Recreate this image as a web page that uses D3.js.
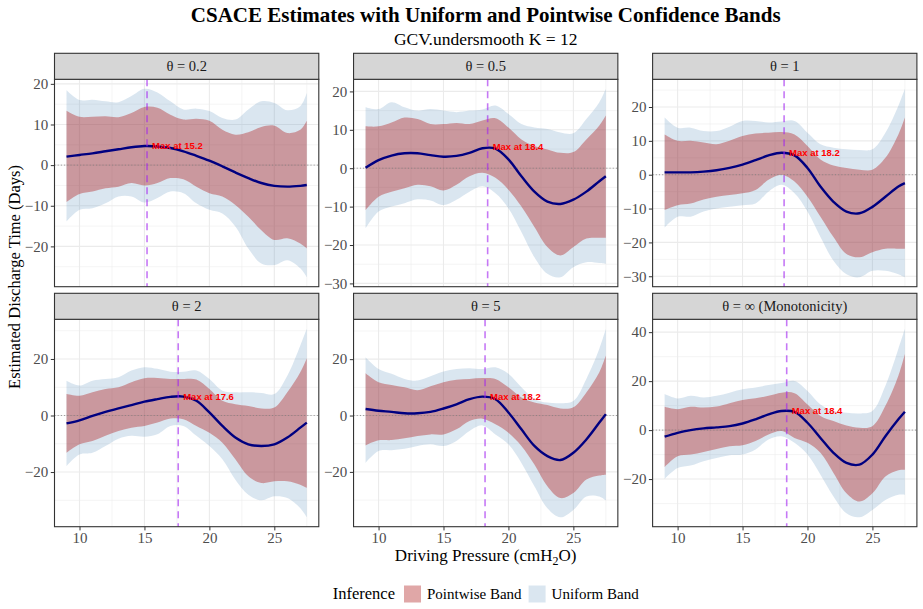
<!DOCTYPE html>
<html>
<head>
<meta charset="utf-8">
<script src="https://cdn.jsdelivr.net/npm/d3@7"></script>
<style>
	body { margin: 0; background: #fff; }
	svg text { font-family: "Liberation Serif", "Times New Roman", serif; }
</style>
</head>
<body>
<div id="chart"></div>
<script>
'use strict';

// common grid of driving pressure values
var xGrid = [9, 10, 11, 12, 13, 14, 15, 16, 17, 18, 19, 20, 21, 22, 23, 24, 25, 26, 27, 27.5];
var xTicks = [10, 15, 20, 25];

var panelLabels = ['θ = 0.2', 'θ = 0.5', 'θ = 1', 'θ = 2', 'θ = 5', 'θ = ∞ (Monotonicity)'];
var maxX = [15.2, 18.4, 18.2, 17.6, 18.2, 18.4];
var maxY = [4.7, 5.6, 6.5, 6.8, 6.8, 8.1];

// theta = 0.2
var est_02  = [2.1, 2.5, 2.9, 3.4, 3.9, 4.4, 4.7, 4.6, 4.2, 3.4, 2.3, 1.1, -0.3, -1.8, -3.2, -4.4, -5.1, -5.3, -5.1, -4.9];
var pwHi_02 = [13.4, 11.9, 11.9, 12.0, 11.8, 12.8, 14.3, 14.1, 12.4, 11.2, 11.4, 10.9, 8.7, 7.5, 8.1, 9.4, 9.7, 7.9, 8.7, 10.9];
var pwLo_02 = [-9.1, -7.1, -6.5, -5.7, -5.3, -4.4, -5.0, -4.4, -3.2, -3.5, -5.3, -6.9, -7.7, -9.8, -12.7, -16.0, -18.4, -18.0, -19.3, -20.5];
var ufHi_02 = [18.4, 16.0, 16.1, 15.7, 15.5, 17.0, 18.8, 17.9, 15.7, 13.7, 13.9, 13.3, 11.6, 11.2, 13.7, 15.7, 15.3, 13.5, 14.5, 17.8];
var ufLo_02 = [-13.9, -11.0, -10.6, -9.4, -7.7, -7.7, -9.2, -8.1, -6.5, -6.9, -9.4, -11.0, -11.9, -15.1, -20.5, -24.2, -24.6, -23.4, -25.4, -27.6];
var ticks_02 = [-20, -10, 0, 10, 20];

// theta = 0.5
var est_05  = [0.1, 2.1, 3.3, 3.9, 3.9, 3.4, 3.0, 3.2, 4.0, 5.2, 5.1, 2.3, -2.1, -6.1, -8.7, -9.3, -8.2, -6.1, -3.4, -2.1];
var pwHi_05 = [10.9, 10.9, 11.9, 13.2, 12.8, 11.5, 11.5, 11.8, 11.5, 12.4, 13.0, 10.6, 7.5, 5.8, 4.9, 4.0, 4.2, 7.5, 11.1, 13.7];
var pwLo_05 = [-10.9, -7.4, -6.1, -5.2, -4.3, -4.7, -5.8, -4.3, -2.1, -1.2, -2.5, -5.6, -10.0, -15.3, -20.5, -22.7, -20.5, -18.3, -18.1, -18.1];
var ufHi_05 = [15.9, 15.4, 17.2, 15.9, 15.0, 15.4, 15.0, 14.6, 15.0, 15.3, 16.3, 14.1, 11.5, 10.6, 10.2, 9.3, 9.1, 12.8, 17.2, 20.7];
var ufLo_05 = [-15.7, -11.3, -10.0, -9.1, -8.1, -8.4, -9.6, -8.2, -6.1, -4.7, -6.5, -10.4, -16.6, -23.2, -27.5, -28.4, -25.8, -24.5, -24.7, -24.9];
var ticks_05 = [-30, -20, -10, 0, 10, 20];

// theta = 1
var est_1  = [0.7, 0.7, 0.7, 0.9, 1.3, 2.0, 3.0, 4.3, 5.7, 6.5, 5.7, 2.0, -3.5, -8.0, -10.9, -11.4, -9.5, -6.5, -3.5, -2.5];
var pwHi_1 = [11.9, 10.0, 10.0, 9.5, 9.0, 10.0, 11.4, 12.2, 12.4, 12.6, 11.9, 8.5, 4.5, 2.7, 2.0, 1.5, 1.5, 5.0, 11.9, 16.9];
var pwLo_1 = [-10.4, -9.0, -8.5, -7.3, -6.5, -6.0, -5.5, -4.5, -1.5, 0, -2.0, -6.5, -12.4, -18.4, -23.4, -24.4, -22.9, -21.9, -21.9, -21.9];
var ufHi_1 = [16.9, 13.9, 13.9, 12.9, 12.9, 14.2, 15.9, 15.9, 15.4, 15.7, 15.9, 12.4, 9.0, 8.0, 7.5, 7.3, 7.5, 12.4, 20.4, 25.4];
var ufLo_1 = [-15.6, -12.4, -12.4, -10.9, -10.0, -9.5, -9.0, -8.5, -5.0, -3.0, -5.5, -10.9, -18.4, -25.4, -29.4, -30.3, -28.4, -28.4, -29.4, -30.3];
var ticks_1 = [-30, -20, -10, 0, 10, 20];

// theta = 2
var est_2  = [-2.8, -1.7, -0.1, 1.3, 2.5, 3.7, 4.9, 5.8, 6.6, 6.7, 5.2, 1.1, -3.7, -7.8, -10.2, -10.8, -10.2, -7.8, -4.3, -2.5];
var pwHi_2 = [7.6, 7.0, 8.2, 9.4, 10.0, 11.8, 13.2, 13.3, 12.9, 12.9, 12.7, 9.4, 5.2, 4.0, 3.4, 2.5, 2.8, 8.2, 15.3, 20.3];
var pwLo_2 = [-13.2, -10.2, -9.0, -7.2, -5.5, -4.3, -3.7, -2.5, -1.1, -1.3, -3.7, -6.1, -9.6, -15.5, -21.5, -23.9, -23.3, -23.3, -24.5, -25.6];
var ufHi_2 = [12.3, 10.6, 12.3, 12.9, 13.5, 15.9, 17.1, 16.5, 15.5, 15.5, 15.9, 12.9, 8.8, 8.2, 8.2, 8.0, 7.6, 14.1, 24.8, 30.7];
var ufLo_2 = [-17.9, -13.8, -13.2, -10.8, -8.2, -7.2, -7.5, -6.6, -3.7, -3.7, -7.2, -10.8, -15.5, -22.7, -28.0, -30.0, -28.6, -29.2, -32.8, -36.0];
var ticks_2 = [-20, 0, 20];

// theta = 5
var est_5  = [2.3, 1.7, 1.3, 0.8, 0.8, 1.3, 2.5, 4.0, 5.8, 6.7, 5.8, 1.1, -4.9, -10.8, -14.4, -15.8, -13.2, -8.5, -2.5, 0.5];
var pwHi_5 = [15.0, 11.8, 10.8, 10.0, 9.0, 10.4, 11.8, 12.7, 13.0, 13.3, 13.0, 10.0, 6.4, 4.6, 3.7, 2.5, 2.9, 8.2, 15.4, 21.3];
var pwLo_5 = [-10.6, -8.8, -8.7, -8.1, -7.3, -6.7, -6.7, -4.9, -1.9, -1.1, -3.1, -6.1, -10.8, -17.4, -25.1, -29.3, -27.5, -22.7, -21.3, -21.0];
var ufHi_5 = [20.7, 16.5, 14.8, 13.0, 12.4, 13.9, 15.6, 16.5, 16.8, 16.5, 17.1, 14.8, 10.0, 5.8, 4.6, 4.4, 5.2, 13.0, 23.7, 30.8];
var ufLo_5 = [-16.8, -12.6, -12.3, -11.8, -10.8, -10.2, -10.8, -9.0, -5.5, -3.5, -6.7, -10.2, -16.8, -25.1, -32.9, -36.1, -33.5, -28.7, -28.7, -30.1];
var ticks_5 = [-20, 0, 20];

// theta = infinity
var est_inf  = [-2.7, -1.1, 0, 0.7, 1.1, 1.6, 2.7, 4.4, 6.4, 7.8, 7.4, 3.0, -3.2, -9.3, -13.4, -14.1, -10.0, -2.5, 4.4, 7.5];
var pwHi_inf = [9.5, 8.5, 9.5, 9.2, 9.6, 11.0, 12.3, 13.0, 14.0, 15.3, 15.1, 10.5, 5.8, 3.7, 1.9, 1.0, 1.6, 9.9, 22.2, 31.1];
var pwLo_inf = [-15.1, -10.7, -10.0, -8.9, -7.7, -6.6, -6.2, -4.5, -1.8, -0.4, -3.2, -5.2, -9.3, -17.5, -25.8, -29.2, -25.8, -18.9, -16.4, -16.2];
var ufHi_inf = [14.7, 12.9, 14.0, 13.3, 14.0, 15.3, 16.7, 17.4, 18.4, 19.2, 20.1, 16.0, 10.5, 7.8, 7.1, 6.8, 7.8, 18.1, 33.2, 41.4];
var ufLo_inf = [-20.0, -15.5, -14.5, -12.7, -11.4, -10.3, -10.0, -7.9, -3.8, -2.5, -5.2, -10.0, -18.2, -27.1, -34.0, -35.6, -32.6, -28.5, -26.4, -26.4];
var ticks_inf = [-20, 0, 20, 40];

var estimates = [est_02, est_05, est_1, est_2, est_5, est_inf];
var pwHis = [pwHi_02, pwHi_05, pwHi_1, pwHi_2, pwHi_5, pwHi_inf];
var pwLos = [pwLo_02, pwLo_05, pwLo_1, pwLo_2, pwLo_5, pwLo_inf];
var ufHis = [ufHi_02, ufHi_05, ufHi_1, ufHi_2, ufHi_5, ufHi_inf];
var ufLos = [ufLo_02, ufLo_05, ufLo_1, ufLo_2, ufLo_5, ufLo_inf];
var yTicks = [ticks_02, ticks_05, ticks_1, ticks_2, ticks_5, ticks_inf];

var legendLabels = ['Pointwise Band', 'Uniform Band'];

var W = 923, H = 609;
var marginLeft = 54.5, marginTop = 53.3;
var panelW = 264.3, colGap = 34.75;
var stripH = 26, plotH = 207.4, rowGap = 6.6;

var pwFill = 'rgba(178,34,34,0.4)';
var ufFill = 'rgba(70,130,180,0.2)';
var gridCol = '#EBEBEB';
var fg = '#333333';
var serif = '"Liberation Serif", "Times New Roman", serif';

var svg = d3.select('#chart').append('svg')
	.attr('width', W)
	.attr('height', H);

var xScale = d3.scaleLinear()
	.domain(expand(d3.extent(xGrid)))
	.range([0, panelW]);

function expand(ext){
	var r = ext[1] - ext[0];
	return [ext[0] - 0.05 * r, ext[1] + 0.05 * r];
}

function minorOf(ticks, dom){
	var step = ticks[1] - ticks[0];
	var out = [];
	for (var v = ticks[0] - step / 2; v <= dom[1]; v += step){
		if (v >= dom[0]) out.push(v);
	}
	return out;
}

function styleAxis(sel){
	sel.attr('font-family', serif).attr('font-size', 15);
	sel.select('.domain').remove();
	sel.selectAll('line').attr('stroke', fg);
	sel.selectAll('text').attr('fill', '#4D4D4D');
}

panelLabels.forEach(function(label, i){
	var col = i % 3, row = Math.floor(i / 3);
	var px = marginLeft + col * (panelW + colGap);
	var py = marginTop + row * (stripH + plotH + rowGap);

	var rows = xGrid.map(function(x, j){
		return {x: x, est: estimates[i][j], pwLo: pwLos[i][j], pwHi: pwHis[i][j], ufLo: ufLos[i][j], ufHi: ufHis[i][j]};
	});

	var lo = d3.min(rows, function(d){ return Math.min(d.ufLo, d.pwLo, d.est); });
	var hi = d3.max(rows, function(d){ return Math.max(d.ufHi, d.pwHi, d.est); });
	var yDom = expand([lo, hi]);
	var yScale = d3.scaleLinear().domain(yDom).range([plotH, 0]);

	var g = svg.append('g')
		.attr('transform', 'translate(' + px + ',' + (py + stripH) + ')');

	// grid
	var xMinor = minorOf(xTicks, xScale.domain());
	var yMinor = minorOf(yTicks[i], yDom);
	g.selectAll('line.xminor').data(xMinor).enter().append('line')
		.attr('x1', function(d){ return xScale(d); }).attr('x2', function(d){ return xScale(d); })
		.attr('y1', 0).attr('y2', plotH)
		.attr('stroke', gridCol).attr('stroke-width', 0.55);
	g.selectAll('line.yminor').data(yMinor).enter().append('line')
		.attr('y1', function(d){ return yScale(d); }).attr('y2', function(d){ return yScale(d); })
		.attr('x1', 0).attr('x2', panelW)
		.attr('stroke', gridCol).attr('stroke-width', 0.55);
	g.selectAll('line.xmajor').data(xTicks).enter().append('line')
		.attr('x1', function(d){ return xScale(d); }).attr('x2', function(d){ return xScale(d); })
		.attr('y1', 0).attr('y2', plotH)
		.attr('stroke', gridCol).attr('stroke-width', 1.1);
	g.selectAll('line.ymajor').data(yTicks[i]).enter().append('line')
		.attr('y1', function(d){ return yScale(d); }).attr('y2', function(d){ return yScale(d); })
		.attr('x1', 0).attr('x2', panelW)
		.attr('stroke', gridCol).attr('stroke-width', 1.1);

	var curve = d3.curveCatmullRom.alpha(0.5);

	var ufArea = d3.area()
		.x(function(d){ return xScale(d.x); })
		.y0(function(d){ return yScale(d.ufLo); })
		.y1(function(d){ return yScale(d.ufHi); })
		.curve(curve);
	var pwArea = d3.area()
		.x(function(d){ return xScale(d.x); })
		.y0(function(d){ return yScale(d.pwLo); })
		.y1(function(d){ return yScale(d.pwHi); })
		.curve(curve);
	var estLine = d3.line()
		.x(function(d){ return xScale(d.x); })
		.y(function(d){ return yScale(d.est); })
		.curve(curve);

	g.append('path').datum(rows).attr('d', ufArea).attr('fill', ufFill);
	g.append('path').datum(rows).attr('d', pwArea).attr('fill', pwFill);

	// zero reference
	g.append('line')
		.attr('x1', 0).attr('x2', panelW)
		.attr('y1', yScale(0)).attr('y2', yScale(0))
		.attr('stroke', '#7f7f7f').attr('stroke-width', 0.8)
		.attr('stroke-dasharray', '1,2.2');

	g.append('path').datum(rows)
		.attr('d', estLine)
		.attr('fill', 'none')
		.attr('stroke', '#000080')
		.attr('stroke-width', 2.4);

	g.append('line')
		.attr('x1', xScale(maxX[i])).attr('x2', xScale(maxX[i]))
		.attr('y1', 0).attr('y2', plotH)
		.attr('stroke', 'rgba(160,32,240,0.6)')
		.attr('stroke-width', 1.6)
		.attr('stroke-dasharray', '7,5');

	g.append('text')
		.attr('x', xScale(maxX[i]) + 5)
		.attr('y', yScale(maxY[i]))
		.attr('dy', '0.35em')
		.style('font-family', '"Liberation Sans", Arial, sans-serif')
		.style('font-weight', 'bold')
		.style('font-size', '9.5px')
		.attr('fill', '#FF0000')
		.text('Max at ' + maxX[i]);

	g.append('rect')
		.attr('width', panelW).attr('height', plotH)
		.attr('fill', 'none').attr('stroke', fg).attr('stroke-width', 1.1);

	// y axis
	var yAxis = d3.axisLeft(yScale).tickValues(yTicks[i]).tickSize(3.7).tickPadding(2.5);
	g.append('g').call(yAxis).call(styleAxis);

	if (row === 1){
		var xAxis = d3.axisBottom(xScale).tickValues(xTicks).tickSize(3.7).tickPadding(1.5);
		g.append('g').attr('transform', 'translate(0,' + plotH + ')').call(xAxis).call(styleAxis);
	}

	// strip
	var s = svg.append('g').attr('transform', 'translate(' + px + ',' + py + ')');
	s.append('rect')
		.attr('width', panelW).attr('height', stripH)
		.attr('fill', '#D6D6D6').attr('stroke', fg).attr('stroke-width', 1.1);
	s.append('text')
		.attr('x', panelW / 2).attr('y', stripH / 2)
		.attr('dy', '0.35em')
		.attr('text-anchor', 'middle')
		.attr('fill', '#1A1A1A')
		.style('font-size', '14.5px')
		.text(label);
});

var centerX = marginLeft + (3 * panelW + 2 * colGap) / 2;

svg.append('text')
	.attr('x', centerX).attr('y', 22)
	.attr('text-anchor', 'middle')
	.style('font-weight', 'bold').style('font-size', '21px')
	.text('CSACE Estimates with Uniform and Pointwise Confidence Bands');

svg.append('text')
	.attr('x', centerX).attr('y', 44.5)
	.attr('text-anchor', 'middle')
	.style('font-size', '17.5px')
	.text('GCV.undersmooth K = 12');

var xt = svg.append('text')
	.attr('x', centerX).attr('y', 561)
	.attr('text-anchor', 'middle')
	.style('font-size', '17px');
xt.append('tspan').text('Driving Pressure (cmH');
xt.append('tspan').attr('dy', 4).style('font-size', '12px').text('2');
xt.append('tspan').attr('dy', -4).text('O)');

svg.append('text')
	.attr('transform', 'translate(20,277) rotate(-90)')
	.attr('text-anchor', 'middle')
	.style('font-size', '16.5px')
	.text('Estimated Discharge Time (Days)');

// legend
var legend = svg.append('g');
var title = legend.append('text').attr('x', 0).attr('y', 0).attr('dy', '0.32em')
	.style('font-size', '16.5px').text('Inference');
var cursor = title.node().getComputedTextLength() + 9;
var keyFills = [pwFill, ufFill];
legendLabels.forEach(function(lab, k){
	legend.append('rect')
		.attr('x', cursor).attr('y', -8.5)
		.attr('width', 17).attr('height', 17)
		.attr('fill', keyFills[k]);
	var t = legend.append('text')
		.attr('x', cursor + 23).attr('y', 0).attr('dy', '0.32em')
		.style('font-size', '15px').text(lab);
	cursor += 23 + t.node().getComputedTextLength() + 7;
});
legend.attr('transform', 'translate(' + (centerX - (cursor - 7) / 2) + ',594)');
</script>
</body>
</html>
